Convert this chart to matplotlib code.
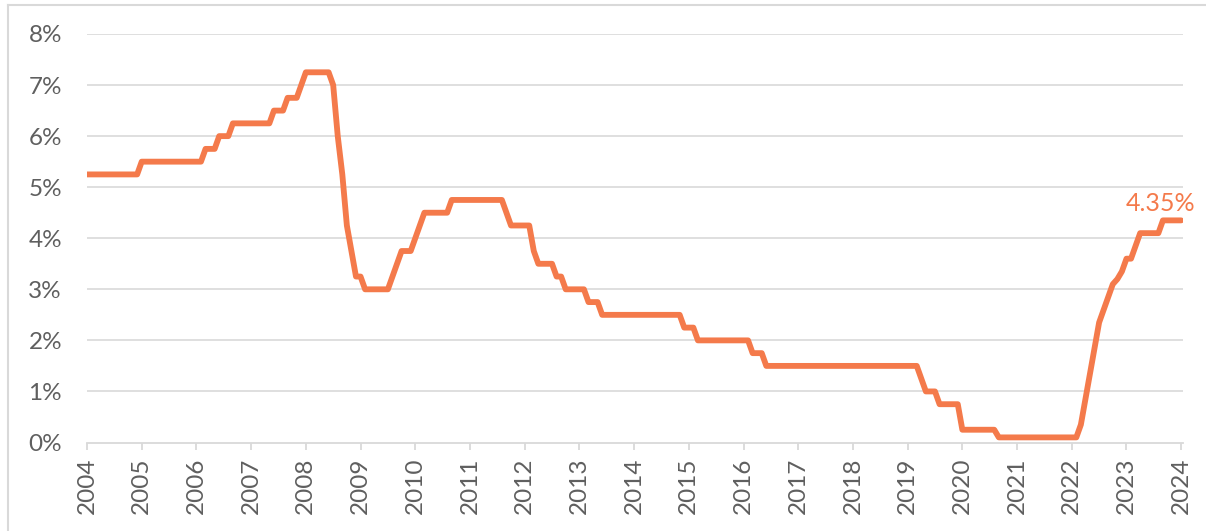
import numpy as np
import matplotlib
matplotlib.use("Agg")
import matplotlib.pyplot as plt
from matplotlib.lines import Line2D

# Monthly cash rate (%), one row per year label (12 points each), last point closes the series
cash_rate = [
    5.25, 5.25, 5.25, 5.25, 5.25, 5.25, 5.25, 5.25, 5.25, 5.25, 5.25, 5.25,   # 2004
    5.50, 5.50, 5.50, 5.50, 5.50, 5.50, 5.50, 5.50, 5.50, 5.50, 5.50, 5.50,   # 2005
    5.50, 5.50, 5.75, 5.75, 5.75, 6.00, 6.00, 6.00, 6.25, 6.25, 6.25, 6.25,   # 2006
    6.25, 6.25, 6.25, 6.25, 6.25, 6.50, 6.50, 6.50, 6.75, 6.75, 6.75, 7.00,   # 2007
    7.25, 7.25, 7.25, 7.25, 7.25, 7.25, 7.00, 6.00, 5.25, 4.25, 3.75, 3.25,   # 2008
    3.25, 3.00, 3.00, 3.00, 3.00, 3.00, 3.00, 3.25, 3.50, 3.75, 3.75, 3.75,   # 2009
    4.00, 4.25, 4.50, 4.50, 4.50, 4.50, 4.50, 4.50, 4.75, 4.75, 4.75, 4.75,   # 2010
    4.75, 4.75, 4.75, 4.75, 4.75, 4.75, 4.75, 4.75, 4.50, 4.25, 4.25, 4.25,   # 2011
    4.25, 4.25, 3.75, 3.50, 3.50, 3.50, 3.50, 3.25, 3.25, 3.00, 3.00, 3.00,   # 2012
    3.00, 3.00, 2.75, 2.75, 2.75, 2.50, 2.50, 2.50, 2.50, 2.50, 2.50, 2.50,   # 2013
    2.50, 2.50, 2.50, 2.50, 2.50, 2.50, 2.50, 2.50, 2.50, 2.50, 2.50, 2.25,   # 2014
    2.25, 2.25, 2.00, 2.00, 2.00, 2.00, 2.00, 2.00, 2.00, 2.00, 2.00, 2.00,   # 2015
    2.00, 2.00, 1.75, 1.75, 1.75, 1.50, 1.50, 1.50, 1.50, 1.50, 1.50, 1.50,   # 2016
    1.50, 1.50, 1.50, 1.50, 1.50, 1.50, 1.50, 1.50, 1.50, 1.50, 1.50, 1.50,   # 2017
    1.50, 1.50, 1.50, 1.50, 1.50, 1.50, 1.50, 1.50, 1.50, 1.50, 1.50, 1.50,   # 2018
    1.50, 1.50, 1.50, 1.25, 1.00, 1.00, 1.00, 0.75, 0.75, 0.75, 0.75, 0.75,   # 2019
    0.25, 0.25, 0.25, 0.25, 0.25, 0.25, 0.25, 0.25, 0.10, 0.10, 0.10, 0.10,   # 2020
    0.10, 0.10, 0.10, 0.10, 0.10, 0.10, 0.10, 0.10, 0.10, 0.10, 0.10, 0.10,   # 2021
    0.10, 0.10, 0.35, 0.85, 1.35, 1.85, 2.35, 2.60, 2.85, 3.10, 3.20, 3.35,   # 2022
    3.60, 3.60, 3.85, 4.10, 4.10, 4.10, 4.10, 4.10, 4.35, 4.35, 4.35, 4.35,   # 2023
    4.35,                                                                     # 2024
]
year_labels = [str(y) for y in range(2004, 2025)]
y_ticks = [0, 1, 2, 3, 4, 5, 6, 7, 8]
end_label = "4.35%"

line_color = "#F47A4B"
text_color = "#5F5F5F"
grid_color = "#D9D9D9"

plt.rcParams["font.family"] = ["Lato", "DejaVu Sans"]

fig = plt.figure(figsize=(12.06, 5.31), dpi=100)
ax = fig.add_axes([87 / 1206, 88.5 / 531, (1183 - 87) / 1206, (497 - 88.5) / 531])

x = np.arange(len(cash_rate))
ax.plot(x, cash_rate, color=line_color, lw=4.2, solid_joinstyle="round",
        solid_capstyle="round", zorder=3)

ax.set_xlim(0, 240.4)
ax.set_ylim(0, 8)

ax.set_yticks(y_ticks)
ax.set_yticklabels([f"{v}%" for v in y_ticks])
ax.set_xticks(np.arange(len(year_labels)) * 12)
ax.set_xticklabels(year_labels, rotation=90)

for v in y_ticks[1:]:
    ax.axhline(v, color=grid_color, lw=1.2, zorder=1)

for s in ["top", "right", "left"]:
    ax.spines[s].set_visible(False)
ax.spines["bottom"].set_color(grid_color)
ax.spines["bottom"].set_linewidth(1.3)

ax.tick_params(axis="y", length=0, pad=18, labelsize=17.5, labelcolor=text_color)
ax.tick_params(axis="x", length=5, width=1.3, color=grid_color, direction="out",
               pad=6, labelsize=17.5, labelcolor=text_color)

ax.annotate(end_label, xy=(x[-1], cash_rate[-1]), xytext=(-15, 7),
            textcoords="offset points", ha="center", va="baseline",
            fontsize=18, color=line_color)

# outer frame (top and left edges visible)
fig.add_artist(Line2D([8 / 1206, 8 / 1206], [0, 526.5 / 531], color=grid_color,
                      lw=1.5, transform=fig.transFigure))
fig.add_artist(Line2D([8 / 1206, 1], [526.5 / 531, 526.5 / 531], color=grid_color,
                      lw=1.5, transform=fig.transFigure))

fig.savefig("out.png", dpi=100)
